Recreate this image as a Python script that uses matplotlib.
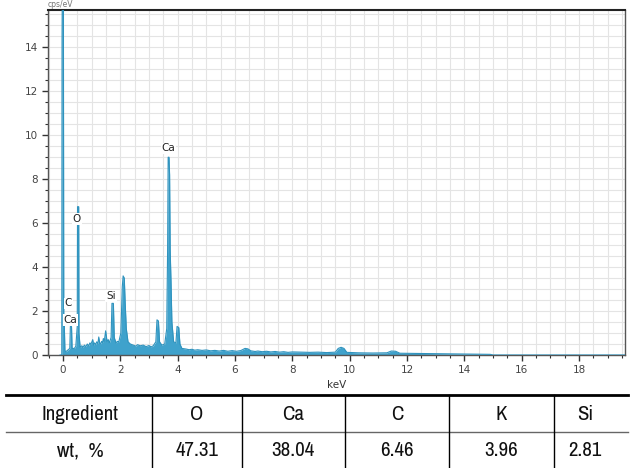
import matplotlib
matplotlib.use("Agg")
import matplotlib.pyplot as plt
from matplotlib.ticker import MultipleLocator

# ---- spectrum data (keV, cps/eV) ----
energy = [-0.10, -0.04, -0.03, -0.015, 0.015, 0.03, 0.05, 0.07, 0.10, 0.15,
          0.24, 0.26, 0.30, 0.32, 0.40, 0.45, 0.50, 0.51, 0.55, 0.56,
          0.60, 0.66, 0.70, 0.75, 0.80, 0.85, 0.90, 0.94, 0.98, 1.04,
          1.07, 1.10, 1.14, 1.18, 1.22, 1.25, 1.28, 1.31, 1.35, 1.38,
          1.41, 1.44, 1.49, 1.54, 1.58, 1.62, 1.68, 1.71, 1.76, 1.79,
          1.85, 1.90, 1.95, 2.02, 2.07, 2.10, 2.14, 2.17, 2.21, 2.27,
          2.35, 2.45, 2.55, 2.60, 2.70, 2.80, 2.90, 3.00, 3.08, 3.15,
          3.24, 3.28, 3.33, 3.37, 3.45, 3.55, 3.62, 3.65, 3.67, 3.70,
          3.72, 3.74, 3.77, 3.80, 3.86, 3.94, 3.98, 4.04, 4.08, 4.15,
          4.30, 4.40, 4.50, 4.60, 4.70, 4.85, 5.00, 5.15, 5.30, 5.45,
          5.60, 5.75, 5.90, 6.05, 6.20, 6.35, 6.45, 6.55, 6.70, 6.80,
          6.95, 7.10, 7.25, 7.40, 7.55, 7.70, 7.85, 8.00, 8.30, 8.60,
          8.90, 9.20, 9.50, 9.60, 9.70, 9.80, 9.90, 10.30, 10.80, 11.30,
          11.45, 11.60, 11.75, 12.30, 13.00, 13.70, 14.40, 14.90, 15.00, 19.60]
cps = [0.0, 0.0, 14.4, 18.0, 18.0, 1.3, 1.3, 0.2, 0.15, 0.2,
       0.3, 1.3, 1.3, 0.3, 0.3, 0.4, 1.3, 6.75, 6.75, 1.0,
       0.35, 0.42, 0.35, 0.45, 0.38, 0.5, 0.42, 0.55, 0.5, 0.7,
       0.45, 0.55, 0.48, 0.6, 0.52, 0.82, 0.55, 0.5, 0.62, 0.55,
       0.75, 0.6, 1.1, 0.6, 0.7, 0.55, 0.8, 2.35, 2.35, 0.8,
       0.55, 0.62, 0.6, 1.0, 3.1, 3.6, 3.5, 2.4, 1.2, 0.6,
       0.5, 0.45, 0.4, 0.47, 0.42, 0.45, 0.38, 0.43, 0.37, 0.42,
       0.6, 1.6, 1.55, 0.6, 0.45, 0.5, 1.2, 4.7, 9.0, 9.0,
       8.2, 4.8, 3.3, 1.5, 0.6, 0.55, 1.3, 1.25, 0.5, 0.3,
       0.27, 0.24, 0.26, 0.22, 0.24, 0.21, 0.23, 0.19, 0.21, 0.18,
       0.21, 0.17, 0.2, 0.17, 0.2, 0.3, 0.28, 0.19, 0.16, 0.18,
       0.15, 0.17, 0.14, 0.16, 0.13, 0.15, 0.12, 0.14, 0.13, 0.12,
       0.13, 0.11, 0.13, 0.3, 0.35, 0.3, 0.12, 0.1, 0.09, 0.1,
       0.18, 0.17, 0.08, 0.07, 0.06, 0.05, 0.04, 0.03, 0.0, 0.0]

# peak labels
peak_labels = ["Ca", "O", "Si", "C", "Ca"]
peak_x = [3.68, 0.49, 1.68, 0.19, 0.27]
peak_y = [9.4, 6.2, 2.7, 2.35, 1.6]

# ---- table data ----
ingredients = ["O", "Ca", "C", "K", "Si"]
wt_percent = ["47.31", "38.04", "6.46", "3.96", "2.81"]

W, H = 633, 468
fig = plt.figure(figsize=(W / 100, H / 100), dpi=100)
ax = fig.add_axes([48 / W, 1 - 355 / H, (625 - 48) / W, (355 - 10) / H])

color = "#3fa2cc"
ax.fill_between(energy, 0, cps, color=color, linewidth=0, zorder=2)
ax.plot(energy, cps, color="#2f93be", linewidth=0.8, zorder=3)

ax.set_xlim(-0.52, 19.6)
ax.set_ylim(0, 15.7)
ax.xaxis.set_major_locator(MultipleLocator(2))
ax.xaxis.set_minor_locator(MultipleLocator(0.5))
ax.yaxis.set_major_locator(MultipleLocator(2))
ax.yaxis.set_minor_locator(MultipleLocator(0.5))
ax.grid(which="both", color="#e4e4e4", linewidth=0.8, zorder=0)
ax.set_axisbelow(True)
ax.tick_params(which="major", length=4, width=1, color="#333333",
               labelsize=7.5, labelcolor="#444444", pad=3)
ax.tick_params(which="minor", length=2.5, width=0.8, color="#333333")
for s in ["left", "bottom", "right"]:
    ax.spines[s].set_color("#555555")
    ax.spines[s].set_linewidth(1.0)
ax.spines["top"].set_color("#222222")
ax.spines["top"].set_linewidth(1.5)

ax.set_xlabel("keV", fontsize=7.5, color="#333333", labelpad=4)
ax.text(0.0, 1.003, "cps/eV", transform=ax.transAxes, fontsize=5.5,
        color="#777777", ha="left", va="bottom")

for lab, x, y in zip(peak_labels, peak_x, peak_y):
    ax.text(x, y, lab, fontsize=7.5, color="#222222", ha="center", va="center",
            zorder=5, bbox=dict(facecolor="white", edgecolor="none", pad=0.6))

# ---- table ----
tax = fig.add_axes([0, 0, 1, 1], facecolor="none")
tax.set_xlim(0, W)
tax.set_ylim(H, 0)
tax.axis("off")

col_edges = [0, 152, 242, 345, 449, 554, 633]
y_top, y_mid, y_bot = 395, 432, 468
tax.plot([6, 628], [y_top, y_top], color="black", linewidth=2.0)
tax.plot([6, 628], [y_mid, y_mid], color="#666666", linewidth=1.0)
for xe in col_edges[1:-1]:
    tax.plot([xe, xe], [y_top, y_bot], color="black", linewidth=1.0)

tfont = ["Archivo Narrow", "DejaVu Sans"]
row1 = ["Ingredient"] + ingredients
row2 = ["wt,  %"] + wt_percent
centers = [80, 197, 293, 397, 501, 585]
for cx, t1, t2 in zip(centers, row1, row2):
    tax.text(cx, (y_top + y_mid) / 2 + 1, t1, fontsize=15, family=tfont,
             ha="center", va="center", color="#111111")
    tax.text(cx, (y_mid + y_bot) / 2 + 1, t2, fontsize=15, family=tfont,
             ha="center", va="center", color="#111111")

fig.savefig("out.png", dpi=100)
